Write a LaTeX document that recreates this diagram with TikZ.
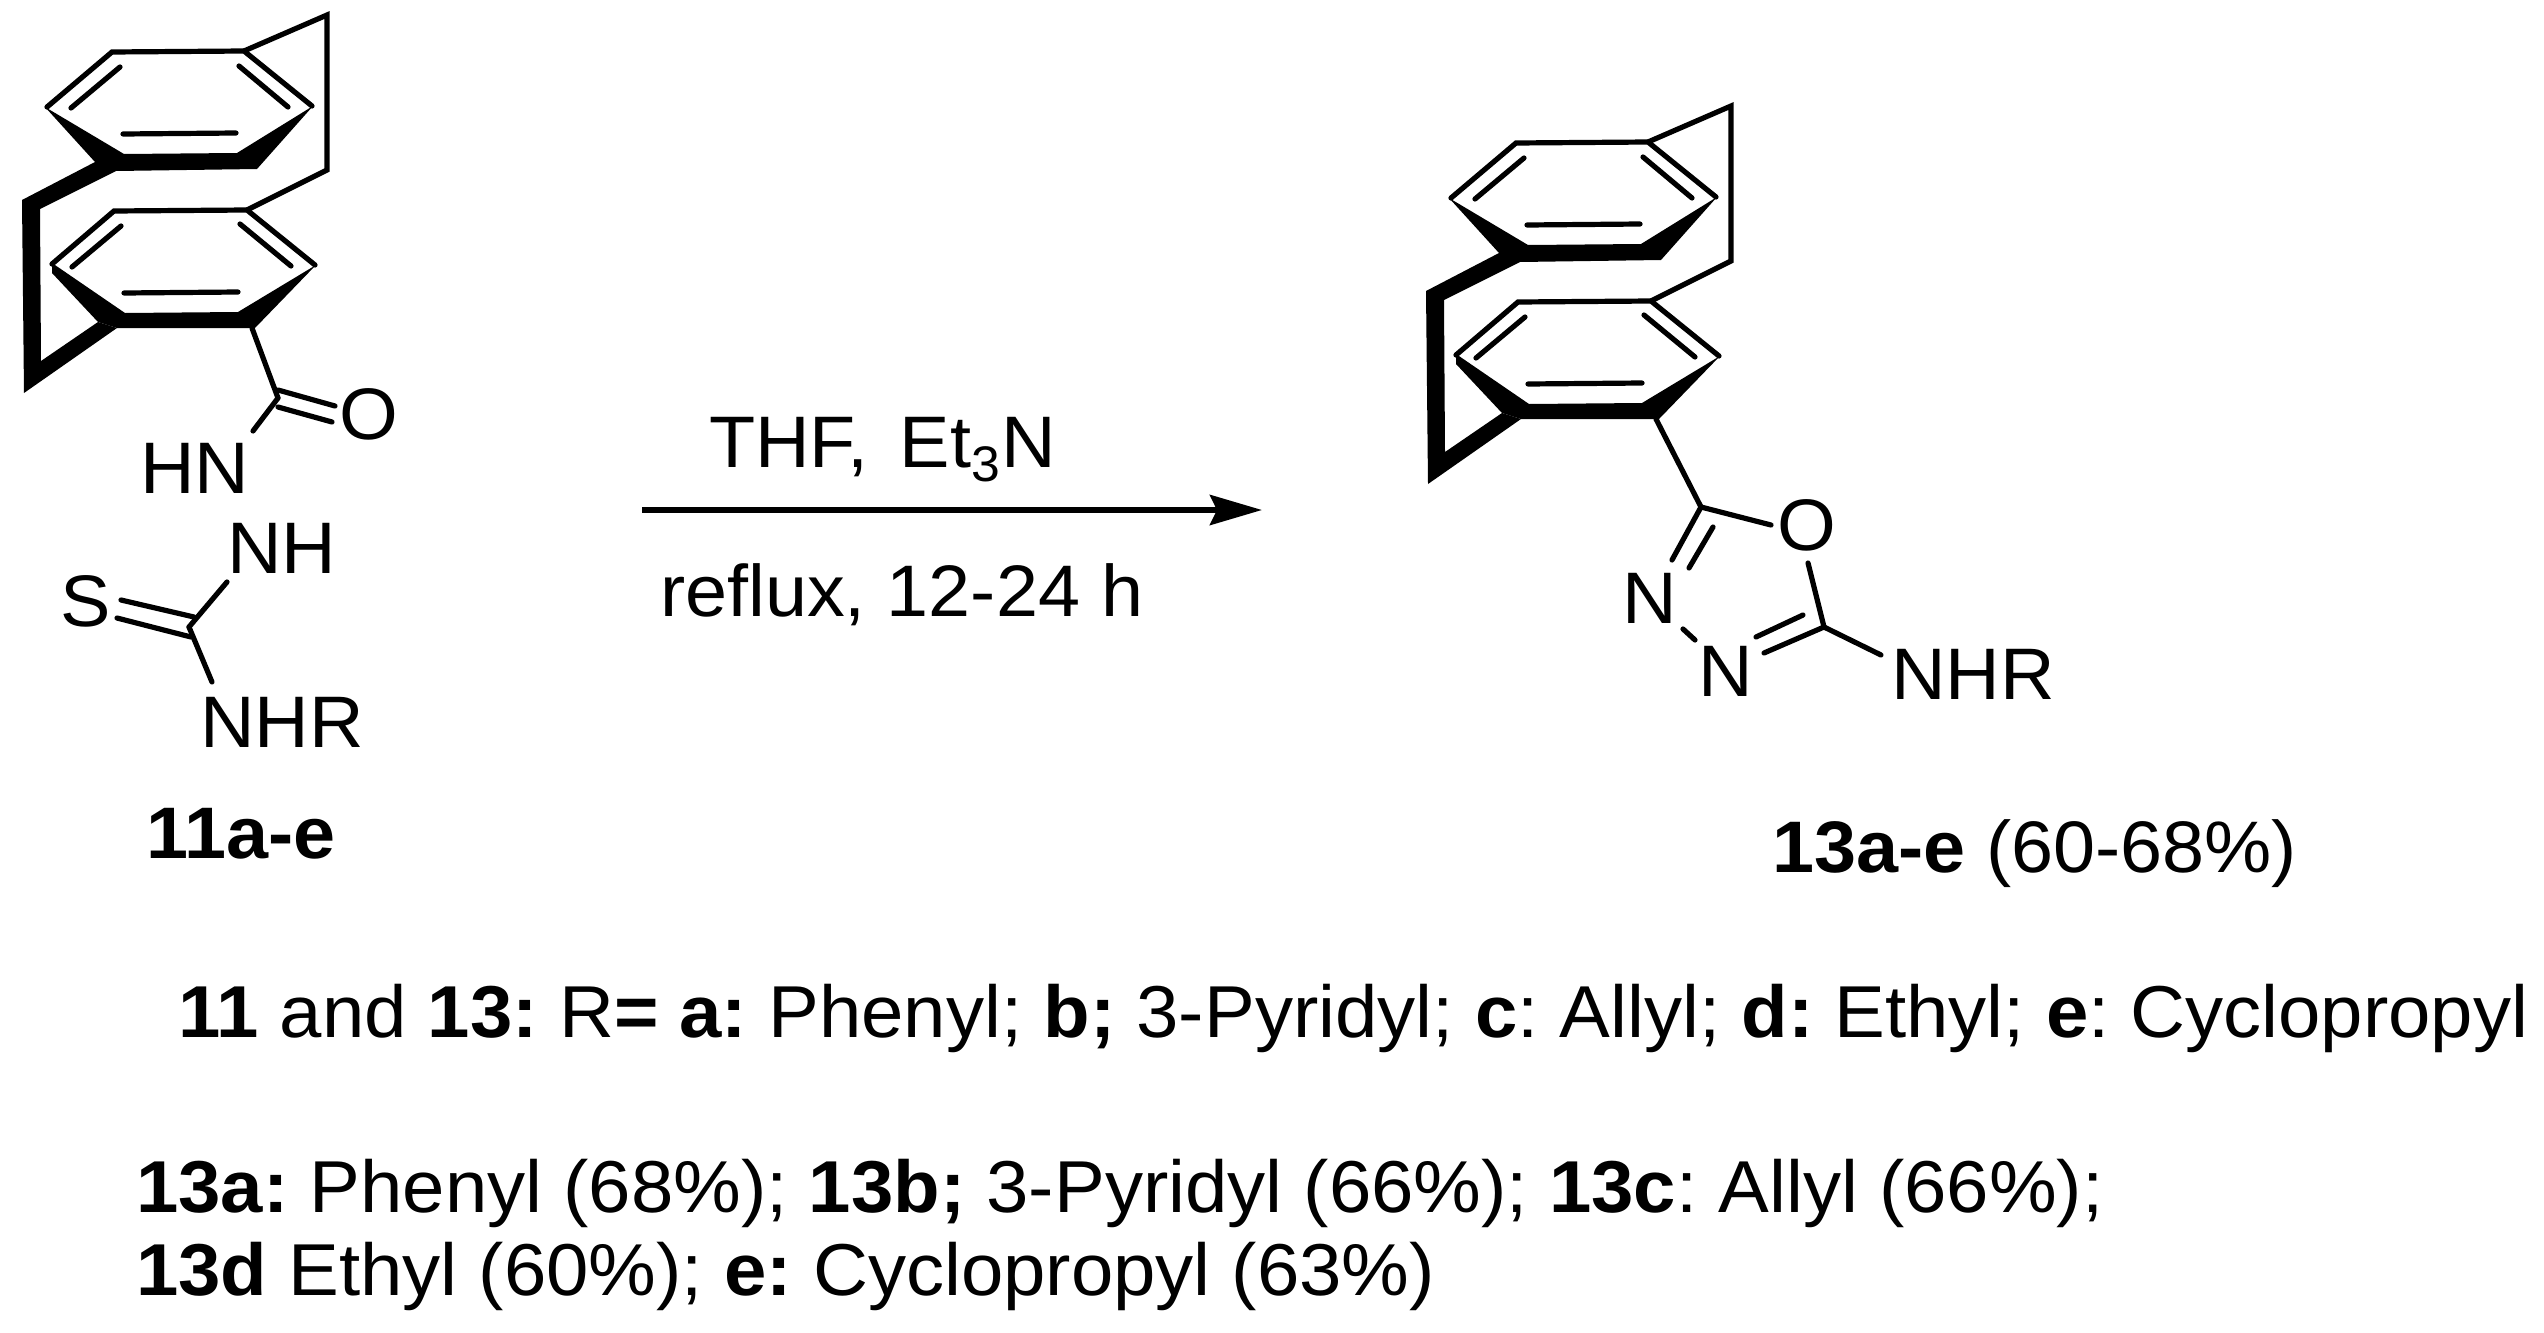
\documentclass[tikz,border=0pt]{standalone}
\usepackage{fontspec}
\setmainfont[FakeStretch=1.035]{Liberation Sans}
\usetikzlibrary{arrows.meta}
\newcommand{\labelsize}{\fontsize{73}{86}\selectfont\frenchspacing}
\newcommand{\legendsize}{\fontsize{73.55}{86}\selectfont\frenchspacing}
\tikzset{
	bond/.style={line width=5.2pt, line cap=round, line join=miter, color=black},
	atomlabel/.style={anchor=base west, inner sep=0pt, font=\labelsize},
	legendline/.style={atomlabel, font=\legendsize},
	pics/cyclophane/.style={code={
		\coordinate (-uptl) at (112,52);
		\coordinate (-uptr) at (244,51);
		\coordinate (-upr) at (312,106);
		\coordinate (-upl) at (47,107);
		\coordinate (-lotl) at (114,211);
		\coordinate (-lotr) at (247,210);
		\coordinate (-lor) at (315,265);
		\coordinate (-lol) at (52,264);
		\coordinate (-sub) at (252,328);
		\coordinate (-brtop) at (327,15);
		\coordinate (-brbot) at (327,170);
		\draw [bond] (-upl)-- (-uptl)-- (-uptr)-- (-upr);
		\draw [bond] (-uptr)-- (-brtop)-- (-brbot)-- (-lotr);
		\draw [bond] (-lol)-- (-lotl)-- (-lotr)-- (-lor);
		\draw [bond] (120,67)-- (71,108);
		\draw [bond] (239,66)-- (288,107);
		\draw [bond] (123,134)-- (236,133);
		\draw [bond] (121,226)-- (72,267);
		\draw [bond] (240,224)-- (291,266);
		\draw [bond] (124,293)-- (238,292);
		\fill (45,107)-- (124,154)-- (237,153)-- (313,106)-- (257,169)-- (116,171)-- (40,209)-- (41,361)-- (98,322)-- (117,328)-- (24,393)-- (22,200)-- (95,162)-- cycle;
		\fill (52,263)-- (125,313)-- (238,312)-- (316,265)-- (255,328)-- (117,328)-- (98,322)-- (52,273)-- cycle;
	}}
}

\begin{document}
\begin{tikzpicture}[x=1pt,y=-1pt]
	\useasboundingbox (0,0) rectangle (2544,1333);

	\pic (left) at (0,0) {cyclophane};
	\coordinate (ccarb) at (278,398);
	\coordinate (otop) at (335,406);
	\coordinate (obot) at (332,422);
	\coordinate (ctop) at (278,390);
	\coordinate (cbot) at (278,407);
	\coordinate (hnend) at (253,431);
	\coordinate (cthio) at (189,627);
	\coordinate (stop) at (121,600);
	\coordinate (sbot) at (117,618);
	\coordinate (cthtop) at (194,617);
	\coordinate (cthbot) at (191,637);
	\coordinate (nhend) at (227,582);
	\coordinate (nhrend) at (212,682);
	\draw [bond] (left-sub)-- (ccarb);
	\draw [bond] (ctop)-- (otop);
	\draw [bond] (cbot)-- (obot);
	\draw [bond] (ccarb)-- (hnend);
	\draw [bond] (cthtop)-- (stop);
	\draw [bond] (cthbot)-- (sbot);
	\draw [bond] (cthio)-- (nhend);
	\draw [bond] (cthio)-- (nhrend);
	\node [atomlabel, anchor=center] (oxo) at (369,414) {O};
	\node [atomlabel] (hn) at (140,493) {HN};
	\node [atomlabel] (nh) at (227,573) {NH};
	\node [atomlabel] (sulfur) at (60,626) {S};
	\node [atomlabel] (nhr) at (200,747) {NHR};
	\node [atomlabel] (lefttitle) at (146,858) {\textbf{11a-e}};

	\coordinate (arrowstart) at (642,510);
	\coordinate (arrowend) at (1262,510);
	\draw [line width=6pt, -{Stealth[length=52pt,width=30pt,inset=7pt]}] (arrowstart)-- (arrowend);
	\node [atomlabel] (above) at (709,467) {THF,\hspace{10pt} Et\raisebox{-0.2em}{\fontsize{50}{50}\selectfont 3}\hspace{2pt}N};
	\node [atomlabel] (below) at (660,616) {reflux, 12-24 h};

	\pic (right) at (1404,91) {cyclophane};
	\coordinate (cfive) at (1701,507);
	\coordinate (ctwo) at (1824,627);
	\coordinate (oleft) at (1771,525);
	\coordinate (obelow) at (1808,563);
	\coordinate (nupper) at (1672,560);
	\coordinate (innera) at (1713,527);
	\coordinate (innerb) at (1689,568);
	\coordinate (nna) at (1683,629);
	\coordinate (nnb) at (1695,640);
	\coordinate (nlower) at (1764,653);
	\coordinate (innerc) at (1803,615);
	\coordinate (innerd) at (1756,637);
	\coordinate (aminoend) at (1881,655);
	\draw [bond] (right-sub)-- (cfive);
	\draw [bond] (cfive)-- (oleft);
	\draw [bond] (cfive)-- (nupper);
	\draw [bond] (innera)-- (innerb);
	\draw [bond] (nna)-- (nnb);
	\draw [bond] (obelow)-- (ctwo);
	\draw [bond] (ctwo)-- (nlower);
	\draw [bond] (innerc)-- (innerd);
	\draw [bond] (ctwo)-- (aminoend);
	\node [atomlabel, anchor=center] (oring) at (1807,525) {O};
	\node [atomlabel] (nleft) at (1622,623) {N};
	\node [atomlabel] (nright) at (1698,696) {N};
	\node [atomlabel] (amino) at (1891,699) {NHR};
	\node [atomlabel] (righttitle) at (1772,872) {\textbf{13a-e} (60-68\%)};

	\node [legendline] (legend) at (178,1037) {\textbf{11} and \textbf{13:} R\textbf{= a:} Phenyl; \textbf{b;} 3-Pyridyl; \textbf{c}: Allyl; \textbf{d:} Ethyl; \textbf{e}: Cyclopropyl};
	\node [legendline] (yieldsa) at (136,1212) {\textbf{13a:} Phenyl (68\%); \textbf{13b;} 3-Pyridyl (66\%); \textbf{13c}: Allyl (66\%);};
	\node [legendline] (yieldsb) at (136,1295) {\textbf{13d} Ethyl (60\%); \textbf{e:} Cyclopropyl (63\%)};
\end{tikzpicture}
\end{document}
